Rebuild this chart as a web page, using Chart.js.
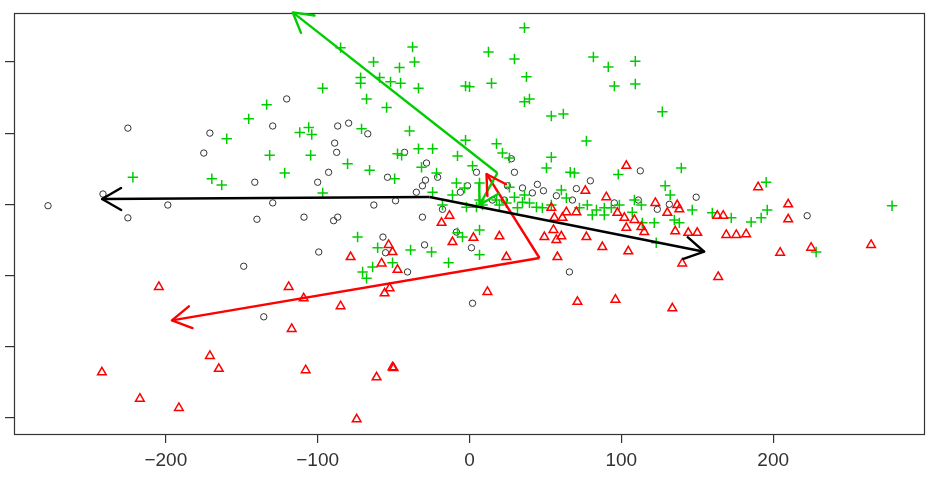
<!DOCTYPE html>
<html>
<head>
<meta charset="utf-8">
<script src="https://cdn.jsdelivr.net/npm/chart.js@4.4.1/dist/chart.umd.min.js"></script>
<style>
html,body{margin:0;padding:0;background:#fff;}
#wrap{width:926px;height:478px;position:relative;}
</style>
</head>
<body>
<div id="wrap"><canvas id="c" width="926" height="478"></canvas></div>
<script>
// ---- data (x in axis units, y in arbitrary units: ticks every 100) ----
const xTickValues = [-200, -100, 0, 100, 200];
const yTickValues = [-300, -200, -100, 0, 100, 200];

const circlePts = [
[-277.6,-2],[-241.4,14.5],[-225,107],[-225,-19],[-198.7,-1],[-175,72],[-171,100],[-141.4,31],
[-140,-21],[-129.6,110],[-129.6,2],[-120.4,148],[-109,-18],[-100,31],[-92.8,45],[-88.8,86],
[-87.5,73],[-86.8,110],[-79.6,114],[-67,99],[-89.5,-23],[-86.8,-18],[-63,-1],[-48.7,5],
[-54,38],[-42.8,73],[-28.3,58],[-29,34],[-31,26],[-35,17],[-21,38],[-31,-18],[-17.8,-7],
[-8.6,-39],[-57,-46],[4.6,45],[-6,17],[-1.3,26],[27.6,64],[29.6,45],[25,26],[34.9,23],
[44.7,28],[48.7,19],[41.4,16],[57.2,12],[70.4,22],[79.6,33],[67.8,6],[95.4,2],[112.5,47],
[149.3,10],[111.2,6],[131.6,0],[123.7,-7],[222.4,-16],[-148.7,-87],[-135.5,-158],[-99.3,-67],
[-55.3,-68],[-29.6,-57],[-40.8,-95],[1.3,-61],[65.8,-95],[2,-139],[15.1,6],[23,6]
];

const crossPts = [
[-133.6,140],[-145.4,120],[-159.9,92],[-105.9,108],[-111.8,101],[-103.9,98],[-131.6,69],[-104.6,69],
[-121.7,44],[-221.7,38],[-169.7,36],[-163.2,27],[-96.7,163],[36.2,248],[12.5,214],[29.6,204],
[-37.5,221],[-84.9,220],[-63.2,200],[-36.2,200],[-46.1,192],[81.6,207],[91.4,193],[37.5,179],
[-71.7,178],[-71.7,170],[-59.2,178],[-52,172],[-45.4,170],[-33.6,163],[-2.6,166],[0,165],
[14.5,170],[95.4,166],[-67.8,148],[-54.6,136],[39.5,148],[36.2,144],[53.9,124],[61.8,127],
[-71.1,106],[-39.5,103],[77,89],[-2.6,90],[17.8,85],[-33.6,78],[-24.3,78],[-47.4,71],
[-44.7,69],[-7.9,68],[21.7,72],[53.9,66],[-80.3,57],[-65.8,48],[50.7,51],[66.4,45],
[69.1,44],[-96.7,16],[-49.3,36],[-31.6,52],[-8.6,30],[2,54],[-24.3,17],[109.2,201],
[109.2,169],[127,130],[98,42],[139.5,51],[128.9,26],[132.2,13],[195.4,31],[108.6,6],
[113.2,-1],[146.7,-8],[159.9,-12],[172.4,-19],[185.5,-25],[192.1,-19],[196.1,-8],[278.3,-2],
[88.8,-5],[107.2,-11],[121.7,-26],[134.9,-22],[138.2,-26],[113.8,-26],[88.8,-15],[228.3,-67],
[123,-54],[-73.7,-46],[-60.5,-61],[-50.7,-82],[-63.8,-88],[-70.4,-95],[-67.8,-104],[-38.8,-64],
[-25,-67],[-13.8,-82],[6.6,-71],[-4.6,-46],[-7.9,-40],[6.6,-36],[26.3,65],[-21.7,44],
[-3.3,23],[6.6,30],[6.6,6],[26.3,24],[29.6,10],[34.9,3],[39.5,2],[44.1,-4],
[48,-5],[53.9,-1],[60.5,20],[63.8,9],[36.2,13],[24.3,2],[-2,-4],[-17.8,-1],
[-11.2,13],[4.6,-4],[8.6,-1],[17.8,6],[19.7,-1],[31.6,-5],[77.6,-1],[83.6,-8],
[93.4,-5],[98.7,-1],[80.9,-15],[72.4,-5]
];

const trianglePts = [
[76.3,19],[90.1,10],[-18.4,-26],[-13.2,-16],[19.7,-45],[2.6,-47],[53.9,-5],[63.8,-11],
[70.4,-11],[55.9,-19],[77,-46],[49.3,-46],[55.3,-36],[60.5,-45],[-11.2,-53],[24.3,-74],
[57.2,-50],[57.9,-74],[61.2,-19],[103.3,54],[190.1,24],[122.4,2],[136.8,-1],[138.2,-7],
[130.3,-12],[97.4,-12],[102,-19],[108.6,-22],[103.3,-33],[113.2,-32],[115.1,-39],[135.5,-38],
[144.1,-40],[150,-40],[163.2,-16],[167.1,-16],[169.1,-43],[175.7,-43],[182.2,-42],[209.9,0],
[209.9,-21],[87.5,-60],[104.6,-66],[140.1,-83],[163.8,-102],[96.1,-134],[133.6,-146],[204.6,-68],
[225,-61],[264.5,-57],[-204.6,-116],[-119.1,-116],[-109.2,-132],[-117.1,-175],[-171,-213],[-165.1,-231],
[-107.9,-233],[-242.1,-236],[-217.1,-273],[-191.4,-286],[-78.3,-74],[-53.3,-57],[-50.7,-67],[-57.9,-83],
[-47.4,-92],[-52.6,-118],[-55.9,-125],[11.8,-123],[71.1,-137],[-84.9,-143],[-61.2,-243],[-50.7,-229],
[-50,-230],[-74.3,-302]
];

// arrows: [origin, tip]
const arrowsBlack = [[[-26.3,10.3],[-242,7.4]], [[-26.3,10.3],[154.6,-66.6]]];
const arrowsGreen = [[[18.4,44],[-116.4,269.5]], [[18.4,44],[6.6,-1]]];
const arrowsRed   = [[[46.1,-75.4],[-196,-163]], [[46.1,-75.4],[11.2,42.6]]];

// ---- build ----
const toXY = a => a.map(p => ({x:p[0], y:p[1]}));
const BLACK = '#000000', GREEN = '#00CD00', RED = '#FF0000';

function arrowSets(list, color){
  return list.map(a => ({
    type:'line', data: toXY(a), borderColor: color, backgroundColor: color,
    borderWidth: 2.4, pointRadius: 0, showLine: true, fill: false, clip: false,
    tension: 0, isArrow: true
  }));
}

const datasets = [
  ...arrowSets(arrowsBlack, BLACK),
  ...arrowSets(arrowsGreen, GREEN),
  ...arrowSets(arrowsRed, RED),
  { type:'scatter', data: toXY(trianglePts), pointStyle:'triangle', pointRadius:5,
    borderColor: RED, backgroundColor:'rgba(0,0,0,0)', borderWidth:1.5 },
  { type:'scatter', data: toXY(crossPts), pointStyle:'cross', pointRadius:5.2,
    borderColor: GREEN, backgroundColor: GREEN, borderWidth:1.5 },
  { type:'scatter', data: toXY(circlePts), pointStyle:'circle', pointRadius:3.2,
    borderColor: '#333333', backgroundColor:'rgba(0,0,0,0)', borderWidth:1 }
];

const arrowHeads = {
  id:'arrowHeads',
  afterDatasetsDraw(chart){
    const ctx = chart.ctx, L = 22, A = Math.PI/6;
    chart.data.datasets.forEach((ds,i)=>{
      if(!ds.isArrow) return;
      const m = chart.getDatasetMeta(i);
      const p0 = m.data[0], p1 = m.data[1];
      const ang = Math.atan2(p1.y-p0.y, p1.x-p0.x);
      ctx.save();
      ctx.strokeStyle = ds.borderColor; ctx.lineWidth = ds.borderWidth;
      ctx.lineCap = 'round'; ctx.lineJoin = 'round';
      ctx.beginPath();
      ctx.moveTo(p1.x - L*Math.cos(ang-A), p1.y - L*Math.sin(ang-A));
      ctx.lineTo(p1.x, p1.y);
      ctx.lineTo(p1.x - L*Math.cos(ang+A), p1.y - L*Math.sin(ang+A));
      ctx.stroke();
      ctx.restore();
    });
  }
};

const frameBox = {
  id:'frameBox',
  beforeDatasetsDraw(chart){
    const {left,top,right,bottom} = chart.chartArea;
    const ctx = chart.ctx;
    ctx.save();
    ctx.strokeStyle = '#333333'; ctx.lineWidth = 1.2;
    ctx.strokeRect(Math.round(left)+0.5, Math.round(top)+0.5, Math.round(right-left)-1, Math.round(bottom-top)-1);
    ctx.restore();
  }
};

new Chart(document.getElementById('c'), {
  type:'scatter',
  data:{ datasets },
  plugins:[frameBox, arrowHeads],
  options:{
    responsive:false, animation:false, events:[],
    layout:{ autoPadding:false, padding:{ top:13, right:1, left:0, bottom:0 } },
    plugins:{ legend:{display:false}, tooltip:{enabled:false} },
    scales:{
      x:{
        type:'linear', min:-300, max:300,
        afterBuildTicks: s => { s.ticks = xTickValues.map(v=>({value:v})); },
        afterFit: s => { s.height = 43; s.paddingLeft = 0; s.paddingRight = 0; },
        border:{display:false},
        grid:{ drawOnChartArea:false, drawTicks:true, tickLength:8, color:'#333333', lineWidth:1.2 },
        ticks:{ padding:6, color:'#333333', font:{family:'Liberation Sans, Arial, sans-serif', size:19},
          callback: v => String(v).replace('-', '\u2212'), maxRotation:0, autoSkip:false }
      },
      y:{
        type:'linear', min:-324, max:268.7,
        afterBuildTicks: s => { s.ticks = yTickValues.map(v=>({value:v})); },
        afterFit: s => { s.width = 14; s.paddingTop = 0; s.paddingBottom = 0; },
        border:{display:false},
        grid:{ drawOnChartArea:false, drawTicks:true, tickLength:9, color:'#333333', lineWidth:1.2 },
        ticks:{ display:false }
      }
    }
  }
});
</script>
</body>
</html>
